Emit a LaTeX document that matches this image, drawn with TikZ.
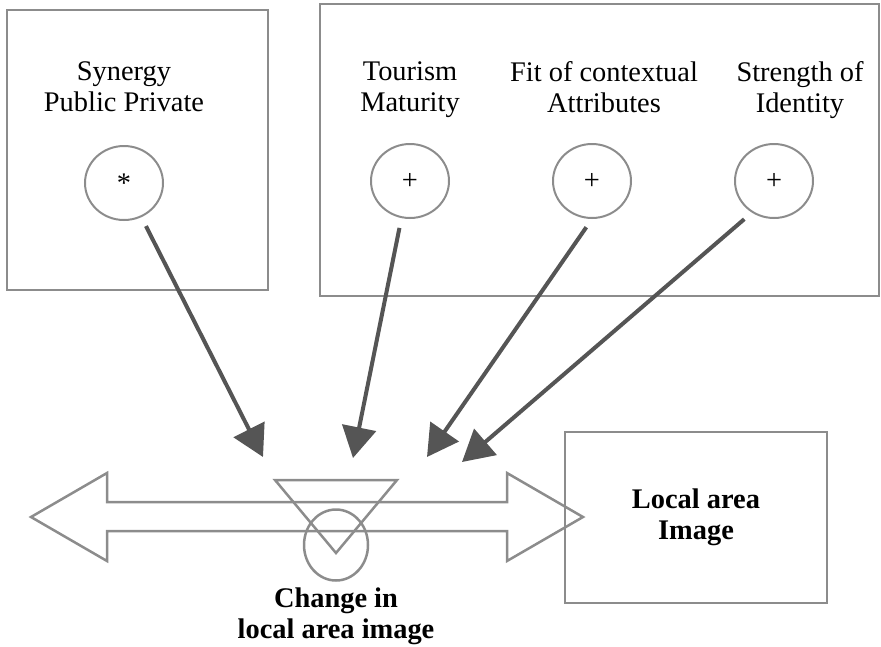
\documentclass[tikz,border=0pt]{standalone}
\usepackage{fontspec}
\setmainfont{Liberation Serif}
\usetikzlibrary{shapes.geometric, arrows.meta, positioning}
\definecolor{linegray}{HTML}{8C8C8C}
\definecolor{shaftgray}{HTML}{555555}
\tikzstyle{groupbox} = [draw=linegray, line width=2pt]
\tikzstyle{factor} = [ellipse, draw=linegray, line width=2pt, minimum width=78pt, minimum height=74pt, inner sep=0pt, font=\fontsize{28.4}{31}\selectfont]
\tikzstyle{factorname} = [align=center, inner sep=0pt, anchor=north, font=\fontsize{28.4}{31}\selectfont]
\tikzstyle{outcome} = [align=center, inner sep=0pt, font=\bfseries\fontsize{28.4}{31}\selectfont]
\tikzstyle{changeshape} = [draw=linegray, line width=2.5pt]
\tikzstyle{influence} = [line width=4pt, draw=shaftgray, fill=shaftgray, -{Triangle[length=31pt, width=34pt]}, shorten <=10pt]

\begin{document}
\begin{tikzpicture}[x=1pt, y=-1pt, node distance=182pt]
\useasboundingbox (0,0) rectangle (881,646);

% factor groups
\draw [groupbox] (7,10) rectangle (268,290);
\draw [groupbox] (320,4) rectangle (879,296);

\node (syn) [factor] at (124,183) {*};
\node (tour) [factor] at (410,181) {+};
\node (fit) [factor, right of=tour] {+};
\node (ident) [factor, right of=fit] {+};

\node (synName) [factorname] at (124,61) {Synergy\\Public Private};
\node (tourName) [factorname] at (410,61) {Tourism\\Maturity};
\node (fitName) [factorname] at (604,61) {Fit of contextual\\Attributes};
\node (identName) [factorname] at (800,61) {Strength of\\Identity};

% change in image
\draw [changeshape] (31,517) -- (107,473) -- (107,502) -- (507,502) -- (507,473) -- (583,517) -- (507,561) -- (507,531) -- (107,531) -- (107,561) -- cycle;
\draw [changeshape] (275,480) -- (397,480) -- (336,553) -- cycle;
\node (change) [changeshape, ellipse, minimum width=64pt, minimum height=71pt] at (336,545) {};
\node (changeName) [outcome, below=6pt of change] {Change in\\local area image};
\node (image) [outcome, draw=linegray, line width=2pt, minimum width=262pt, minimum height=171pt] at (696,517.5) {Local area\\Image};

\coordinate (synTip) at (263,457);
\coordinate (tourTip) at (353,458);
\coordinate (fitTip) at (427,457);
\coordinate (identTip) at (462,462);

\draw [influence] (syn.-63) -- (synTip);
\draw [influence] (tour.-103) -- (tourTip);
\draw [influence] (fit.-90) -- (fitTip);
\draw [influence] (ident.-125) -- (identTip);

\end{tikzpicture}
\end{document}
